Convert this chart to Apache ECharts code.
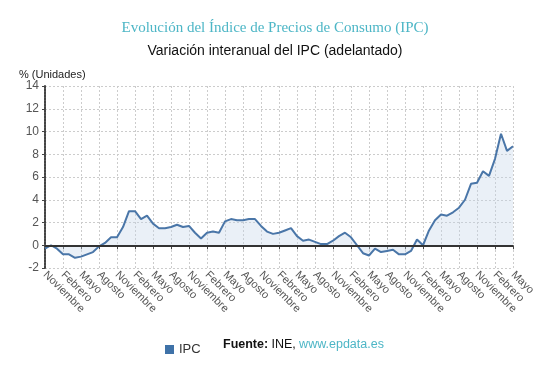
<!DOCTYPE html>
<html>
<head>
<meta charset="utf-8">
<script src="https://cdn.jsdelivr.net/npm/echarts@6/dist/echarts.min.js"></script>
<style>
  html, body { margin: 0; padding: 0; background: #fff; }
  #chart { width: 550px; height: 376px; }
</style>
</head>
<body>
<div id="chart"></div>
<script>
// Meses de referencia (desde noviembre 2015 hasta mayo 2022)
const monthNames = ["Enero", "Febrero", "Marzo", "Abril", "Mayo", "Junio", "Julio",
  "Agosto", "Septiembre", "Octubre", "Noviembre", "Diciembre"];
const startMonth = 10; // noviembre
const ipcValues = [
  -0.3, 0.0,
  -0.3, -0.8, -0.8, -1.1, -1.0, -0.8, -0.6, -0.1, 0.2, 0.7, 0.7, 1.6,
  3.0, 3.0, 2.3, 2.6, 1.9, 1.5, 1.5, 1.6, 1.8, 1.6, 1.7, 1.1,
  0.6, 1.1, 1.2, 1.1, 2.1, 2.3, 2.2, 2.2, 2.3, 2.3, 1.7, 1.2,
  1.0, 1.1, 1.3, 1.5, 0.8, 0.4, 0.5, 0.3, 0.1, 0.1, 0.4, 0.8,
  1.1, 0.7, 0.0, -0.7, -0.9, -0.3, -0.6, -0.5, -0.4, -0.8, -0.8, -0.5,
  0.5, 0.0, 1.3, 2.2, 2.7, 2.6, 2.9, 3.3, 4.0, 5.4, 5.5, 6.5,
  6.1, 7.6, 9.8, 8.3, 8.7
];
const categories = ipcValues.map((v, i) => monthNames[(startMonth + i) % 12]);

const yMin = -2, yMax = 14, yStep = 2;

const chart = echarts.init(document.getElementById("chart"));

const option = {
  animation: false,
  title: [
    {
      text: "Evolución del Índice de Precios de Consumo (IPC)",
      left: "center",
      top: 16,
      textStyle: { fontFamily: "Liberation Serif", fontWeight: "normal", fontSize: 15, color: "#4db6c6" },
    },
    {
      text: "Variación interanual del IPC (adelantado)",
      left: "center",
      top: 39,
      textStyle: { fontFamily: "Liberation Sans", fontWeight: "normal", fontSize: 14, color: "#111" },
    },
    {
      text: "% (Unidades)",
      left: 14,
      top: 64,
      textStyle: { fontFamily: "Liberation Sans", fontWeight: "normal", fontSize: 11, color: "#222" },
    },
  ],
  legend: {
    data: ["IPC"],
    left: 160,
    top: 338,
    icon: "rect",
    itemWidth: 9,
    itemHeight: 9,
    itemGap: 5,
    textStyle: { fontFamily: "Liberation Sans", fontSize: 13, color: "#333" },
  },
  graphic: [
    {
      type: "text",
      left: 223,
      top: 338,
      style: {
        text: "{b|Fuente:} {n|INE,} {l|www.epdata.es}",
        rich: {
          b: { fontFamily: "Liberation Sans", fontWeight: "bold", fontSize: 12.5, fill: "#111" },
          n: { fontFamily: "Liberation Sans", fontSize: 12.5, fill: "#111" },
          l: { fontFamily: "Liberation Sans", fontSize: 12.5, fill: "#4db6c6" },
        },
      },
    },
  ],
  grid: { left: 45, right: 37, top: 86, bottom: 108 },
  xAxis: {
    type: "category",
    data: categories,
    boundaryGap: false,
    axisLine: { show: true, lineStyle: { color: "#444", width: 2, type: [2, 1] } },
    axisTick: { show: true, interval: 2, length: 4, lineStyle: { color: "#444" } },
    axisLabel: {
      interval: 2,
      rotate: -45,
      fontFamily: "Liberation Sans",
      fontSize: 11,
      color: "#555",
      margin: 5,
    },
    splitLine: { show: true, interval: 2, lineStyle: { color: "#ccc", type: [2, 2] } },
  },
  yAxis: {
    type: "value",
    min: yMin,
    max: yMax,
    interval: yStep,
    axisLine: { show: true, lineStyle: { color: "#444", width: 2, type: [2, 1] } },
    axisTick: { show: true, length: 3, lineStyle: { color: "#444" } },
    axisLabel: { fontFamily: "Liberation Sans", fontSize: 12, color: "#555", margin: 6 },
    splitLine: { show: true, lineStyle: { color: "#ccc", type: [2, 2] } },
  },
  series: [
    {
      name: "IPC",
      type: "line",
      data: ipcValues,
      symbol: "none",
      lineStyle: { color: "#4a76a8", width: 2 },
      itemStyle: { color: "#3f72a8" },
      areaStyle: { color: "rgba(196, 212, 232, 0.5)", origin: 0 },
      markLine: {
        silent: true,
        symbol: "none",
        label: { show: false },
        lineStyle: { color: "#333", width: 2, type: "solid" },
        data: [{ yAxis: 0 }],
      },
    },
  ],
};

chart.setOption(option);
</script>
</body>
</html>
